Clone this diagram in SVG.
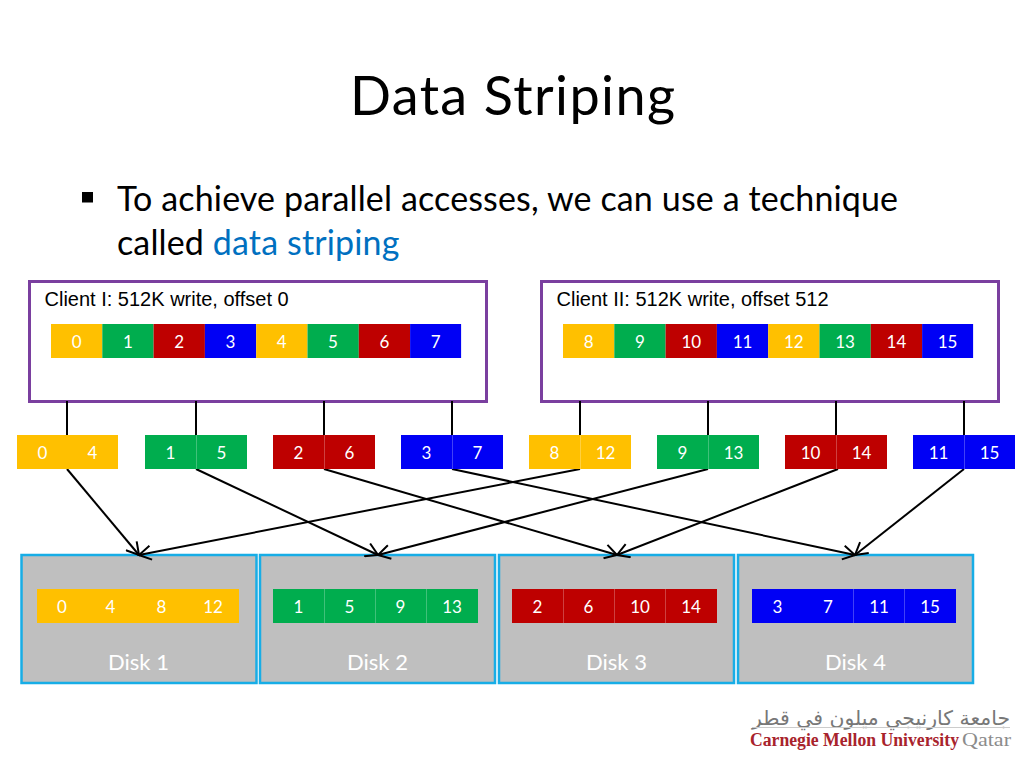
<svg xmlns="http://www.w3.org/2000/svg" width="1024" height="768" viewBox="0 0 1024 768">
<style>
text{font-family:Lato,"Noto Sans",sans-serif}
.n{font-size:17px;fill:#fff;text-anchor:middle}
.cl{font-family:"Liberation Sans",Arial,sans-serif;font-size:20px;fill:#000}
.box{fill:#fff;stroke:#7a3f9f;stroke-width:3}
.disk{fill:#bfbfbf;stroke:#17ade6;stroke-width:2.500}
.y{fill:#ffc000}.g{fill:#00ad4e}.r{fill:#be0000}.b{fill:#0000f5}
.sep{stroke:#fff;stroke-opacity:.25;stroke-width:1}
.c{stroke:#000;stroke-width:2;fill:none}
.a{marker-end:url(#arr)}
.dl{font-size:22px;fill:#fff;text-anchor:middle}
.body{font-size:34px;letter-spacing:.14px;fill:#000}
</style>
<defs>
<marker id="arr" viewBox="-14 -8 16 16" refX="0" refY="0" markerUnits="userSpaceOnUse" markerWidth="16" markerHeight="16" orient="auto"><path d="M-12,-7 L0,0 L-12,7" fill="none" stroke="#000" stroke-width="2"/></marker>
</defs>
<rect width="1024" height="768" fill="#fff"/>
<text id="title" x="350" y="115" font-size="54" fill="#000" textLength="325" lengthAdjust="spacing">Data Striping</text>
<rect x="82" y="192" width="11" height="10.500" fill="#000"/>
<text class="body" x="117" y="211">To achieve parallel accesses, we can use a technique</text>
<text class="body" x="117" y="255">called <tspan fill="#0070c0">data striping</tspan></text>

<g id="client1"><rect class="box" x="29.500" y="281.500" width="457" height="120"/>
<text class="cl" x="44.500" y="306">Client I: 512K write, offset 0</text>
<rect class="y" x="51" y="324" width="51.300" height="34"/><rect class="g" x="102.300" y="324" width="51.300" height="34"/><rect class="r" x="153.600" y="324" width="51.300" height="34"/><rect class="b" x="204.900" y="324" width="51.300" height="34"/><rect class="y" x="256.200" y="324" width="51.300" height="34"/><rect class="g" x="307.500" y="324" width="51.300" height="34"/><rect class="r" x="358.800" y="324" width="51.300" height="34"/><rect class="b" x="410.100" y="324" width="51" height="34"/>
<text class="n" x="76.600" y="348">0</text><text class="n" x="128" y="348">1</text><text class="n" x="179.300" y="348">2</text><text class="n" x="230.500" y="348">3</text><text class="n" x="281.800" y="348">4</text><text class="n" x="333" y="348">5</text><text class="n" x="384.400" y="348">6</text><text class="n" x="435.600" y="348">7</text></g>

<g id="client2"><rect class="box" x="541.500" y="281.500" width="457" height="120"/>
<text class="cl" x="556.500" y="306">Client II: 512K write, offset 512</text>
<rect class="y" x="563" y="324" width="51.300" height="34"/><rect class="g" x="614.300" y="324" width="51.300" height="34"/><rect class="r" x="665.600" y="324" width="51.300" height="34"/><rect class="b" x="716.900" y="324" width="51.300" height="34"/><rect class="y" x="768.200" y="324" width="51.300" height="34"/><rect class="g" x="819.500" y="324" width="51.300" height="34"/><rect class="r" x="870.800" y="324" width="51.300" height="34"/><rect class="b" x="922.100" y="324" width="51" height="34"/>
<text class="n" x="588.600" y="348">8</text><text class="n" x="640" y="348">9</text><text class="n" x="691.300" y="348">10</text><text class="n" x="742.500" y="348">11</text><text class="n" x="793.800" y="348">12</text><text class="n" x="845" y="348">13</text><text class="n" x="896.400" y="348">14</text><text class="n" x="947.600" y="348">15</text></g>

<g id="disk1"><rect class="disk" x="21.500" y="555" width="235" height="128"/><rect class="y" x="37" y="589" width="202" height="34"/>
<text class="n" x="62" y="613">0</text><text class="n" x="110.500" y="613">4</text><text class="n" x="161.500" y="613">8</text><text class="n" x="213" y="613">12</text><text class="dl" x="138.500" y="670">Disk 1</text></g>
<g id="disk2"><rect class="disk" x="260" y="555" width="235" height="128"/><rect class="g" x="273" y="589" width="205" height="34"/><path class="sep" d="M324.500,589V623M375.500,589V623M426.500,589V623"/>
<text class="n" x="298.500" y="613">1</text><text class="n" x="349.500" y="613">5</text><text class="n" x="400.500" y="613">9</text><text class="n" x="452" y="613">13</text><text class="dl" x="377.500" y="670">Disk 2</text></g>
<g id="disk3"><rect class="disk" x="499" y="555" width="235" height="128"/><rect class="r" x="512" y="589" width="205" height="34"/><path class="sep" d="M563.500,589V623M614.500,589V623M665.500,589V623"/>
<text class="n" x="537.500" y="613">2</text><text class="n" x="588.500" y="613">6</text><text class="n" x="640" y="613">10</text><text class="n" x="691" y="613">14</text><text class="dl" x="616.500" y="670">Disk 3</text></g>
<g id="disk4"><rect class="disk" x="738" y="555" width="235" height="128"/><rect class="b" x="752" y="589" width="204" height="34"/><path class="sep" d="M853.500,589V623M904.500,589V623"/>
<text class="n" x="777.500" y="613">3</text><text class="n" x="828" y="613">7</text><text class="n" x="879" y="613">11</text><text class="n" x="930" y="613">15</text><text class="dl" x="855.500" y="670">Disk 4</text></g>

<g id="connectors">
<path class="c" d="M67,401V435M196,401V435M324,401V435M452,401V435M580,401V435M708,401V435M836,401V435M964,401V435"/>
<path class="c a" d="M67,469L139,555"/><path class="c a" d="M196,469L378,555"/><path class="c a" d="M324,469L617,555"/><path class="c a" d="M452,469L855,555"/>
<path class="c a" d="M580,469L139,555"/><path class="c a" d="M708,469L378,555"/><path class="c a" d="M838,469L617,555"/><path class="c a" d="M964,469L855,555"/>
</g>

<g id="s04"><rect class="y" x="17" y="435" width="101" height="34"/><text class="n" x="42.500" y="458.500">0</text><text class="n" x="92.500" y="458.500">4</text></g>
<g id="s15"><rect class="g" x="145" y="435" width="102" height="34"/><path class="sep" d="M196.500,435V469"/><text class="n" x="170.500" y="458.500">1</text><text class="n" x="221.500" y="458.500">5</text></g>
<g id="s26"><rect class="r" x="273" y="435" width="102" height="34"/><path class="sep" d="M324.500,435V469"/><text class="n" x="298.500" y="458.500">2</text><text class="n" x="349.500" y="458.500">6</text></g>
<g id="s37"><rect class="b" x="401" y="435" width="102" height="34"/><path class="sep" d="M452.500,435V469"/><text class="n" x="426.500" y="458.500">3</text><text class="n" x="477.500" y="458.500">7</text></g>
<g id="s812"><rect class="y" x="529" y="435" width="102" height="34"/><path class="sep" d="M580.500,435V469"/><text class="n" x="554.500" y="458.500">8</text><text class="n" x="605.500" y="458.500">12</text></g>
<g id="s913"><rect class="g" x="657" y="435" width="102" height="34"/><path class="sep" d="M708.500,435V469"/><text class="n" x="682.500" y="458.500">9</text><text class="n" x="733.500" y="458.500">13</text></g>
<g id="s1014"><rect class="r" x="785" y="435" width="102" height="34"/><path class="sep" d="M836.500,435V469"/><text class="n" x="810.500" y="458.500">10</text><text class="n" x="861.500" y="458.500">14</text></g>
<g id="s1115"><rect class="b" x="913" y="435" width="102" height="34"/><path class="sep" d="M964.500,435V469"/><text class="n" x="938.500" y="458.500">11</text><text class="n" x="989.500" y="458.500">15</text></g>

<g id="logo">
<text x="881" y="725" text-anchor="middle" font-size="20" fill="#777" style="font-family:'DejaVu Sans',sans-serif" textLength="258" lengthAdjust="spacingAndGlyphs" direction="rtl">جامعة كارنيجي ميلون في قطر</text>
<path d="M752,727.500H1010" stroke="#ccc" stroke-width="1"/>
<text x="750" y="746" font-size="18" font-weight="bold" fill="#a8232c" style="font-family:'Liberation Serif',serif" textLength="209" lengthAdjust="spacingAndGlyphs">Carnegie Mellon University</text>
<text x="962" y="746" font-size="18" fill="#8c8c8c" style="font-family:'Liberation Serif',serif" textLength="49" lengthAdjust="spacingAndGlyphs">Qatar</text>
</g>
</svg>
